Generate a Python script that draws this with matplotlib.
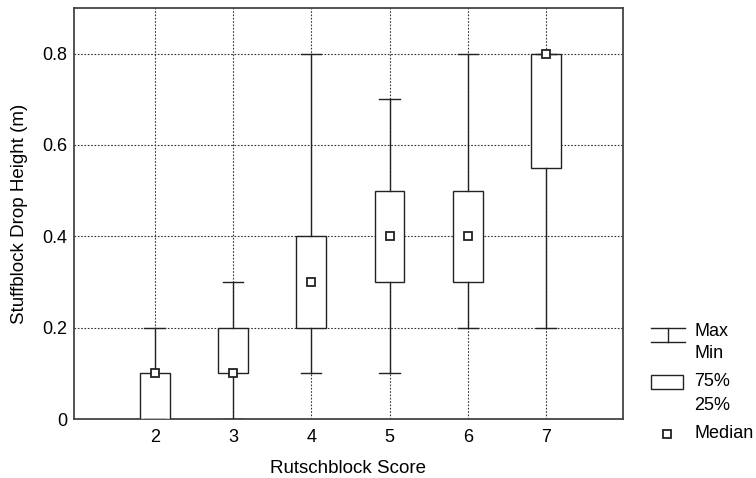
import matplotlib
matplotlib.use("Agg")
import matplotlib.pyplot as plt
from matplotlib.lines import Line2D
from matplotlib.patches import Rectangle

plt.rcParams['font.family'] = ['Liberation Sans', 'DejaVu Sans']

# Rutschblock score vs stuffblock drop height (m)
scores = [2, 3, 4, 5, 6, 7]
mins = [0.0, 0.0, 0.1, 0.1, 0.2, 0.2]
q25 = [0.0, 0.1, 0.2, 0.3, 0.3, 0.55]
medians = [0.1, 0.1, 0.3, 0.4, 0.4, 0.8]
q75 = [0.1, 0.2, 0.4, 0.5, 0.5, 0.8]
maxs = [0.2, 0.3, 0.8, 0.7, 0.8, 0.8]

ink = '#222222'

fig = plt.figure(figsize=(7.56, 4.78), dpi=100)
ax = fig.add_axes([74 / 756, 1 - 419 / 478, 549 / 756, 411 / 478])

stats = []
for s, lo, a, m, b, hi in zip(scores, mins, q25, medians, q75, maxs):
    stats.append(dict(label=str(s), whislo=lo, q1=a, med=m, q3=b, whishi=hi, fliers=[]))

ax.bxp(stats, positions=scores, widths=0.38, capwidths=0.26,
       patch_artist=True, showfliers=False,
       boxprops=dict(facecolor='white', edgecolor=ink, linewidth=1.0),
       whiskerprops=dict(color=ink, linewidth=1.0),
       capprops=dict(color=ink, linewidth=1.0),
       medianprops=dict(linewidth=0),
       zorder=3)
ax.plot(scores, medians, linestyle='none', marker='s', markersize=6,
        markerfacecolor='white', markeredgecolor=ink, markeredgewidth=1.3,
        zorder=5, clip_on=False)

ax.set_xlim(0.97, 7.98)
ax.set_ylim(0, 0.9)
ax.set_xticks(scores)
ax.set_xticklabels([str(s) for s in scores])
ax.set_yticks([0, 0.2, 0.4, 0.6, 0.8])
ax.set_yticklabels(['0', '0.2', '0.4', '0.6', '0.8'])
ax.tick_params(length=0, labelsize=13, colors='black')
ax.tick_params(axis='x', pad=7)
ax.tick_params(axis='y', pad=5)
ax.grid(True, linestyle=(0, (1.5, 1.5)), color='#333333', linewidth=0.8, zorder=0)
ax.set_axisbelow(True)
for sp in ax.spines.values():
    sp.set_color('#444444')
    sp.set_linewidth(1.3)

ax.set_xlabel('Rutschblock Score', fontsize=13.5, labelpad=10)
ax.set_ylabel('Stuffblock Drop Height (m)', fontsize=13.5, labelpad=10)

# hand-drawn legend to the right of the axes, in pixel space
lg = fig.add_axes([0, 0, 1, 1], facecolor='none')
lg.set_xlim(0, 756)
lg.set_ylim(478, 0)
lg.axis('off')
lg.add_line(Line2D([651, 685], [328, 328], color=ink, lw=1.0))
lg.add_line(Line2D([651, 685], [342, 342], color=ink, lw=1.0))
lg.add_line(Line2D([668, 668], [328, 342], color=ink, lw=1.0))
lg.add_patch(Rectangle((651, 375), 32, 14, facecolor='white', edgecolor=ink, lw=1.0))
lg.plot([667], [434], linestyle='none', marker='s', markersize=6,
        markerfacecolor='white', markeredgecolor=ink, markeredgewidth=1.3)
for txt, y in [('Max', 331), ('Min', 354), ('75%', 382), ('25%', 405), ('Median', 434)]:
    lg.text(694, y, txt, fontsize=13, va='center', ha='left')

fig.savefig('out.png', dpi=100)
